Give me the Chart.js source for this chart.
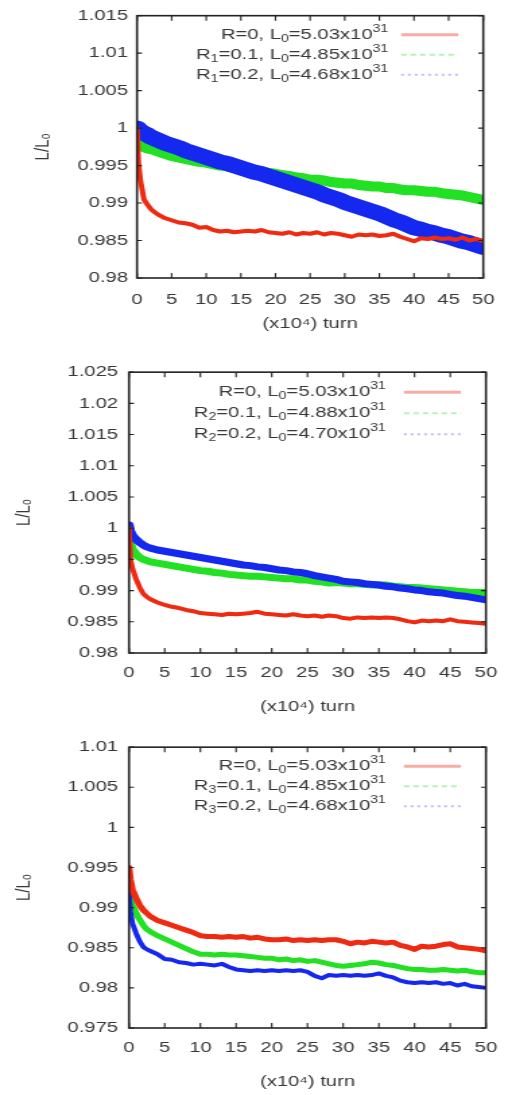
<!DOCTYPE html>
<html>
<head>
<meta charset="utf-8">
<script src="https://cdn.jsdelivr.net/npm/chart.js@4.4.1/dist/chart.umd.min.js"></script>
<style>
  html, body { margin: 0; padding: 0; background: #fff; width: 512px; height: 1095px; overflow: hidden; }
  /* the source figure is stretched sideways, so each panel is drawn narrow and scaled out */
  .panel { position: absolute; left: 0; width: 380px; transform: scaleX(1.34737); transform-origin: 0 0; }
</style>
</head>
<body>
<div class="panel" style="top:0;height:345px"><canvas id="c1"></canvas></div>
<div class="panel" style="top:355px;height:365px"><canvas id="c2"></canvas></div>
<div class="panel" style="top:730px;height:365px"><canvas id="c3"></canvas></div>
<script>
// horizontal stretch of the panels (real px / canvas px)
const SX = 512 / 380;

// turns (x10^4)
const turns = [0, 0.2, 0.5, 1, 1.5, 2, 2.5, 3, 4, 5, 6, 7, 8, 9, 10, 11, 12, 13, 14, 15, 16, 17, 18, 19, 20,
  21, 22, 23, 24, 25, 26, 27, 28, 29, 30, 31, 32, 33, 34, 35, 36, 37, 38, 39, 40, 41, 42, 43, 44, 45, 46, 47, 48, 49, 50];

// --- panel 1 : R1 ---
const p1Red = [1.0000, 0.9955, 0.9930, 0.9905, 0.9898, 0.9892, 0.9888, 0.9885, 0.9880, 0.9877, 0.9874, 0.9873, 0.9871,
  0.9867, 0.9868, 0.9864, 0.9862, 0.9863, 0.9861, 0.9862, 0.9863, 0.9862, 0.9864, 0.9861, 0.9860, 0.9859, 0.9861,
  0.9858, 0.9860, 0.9859, 0.9861, 0.9858, 0.9860, 0.9859, 0.9857, 0.9855, 0.9858, 0.9857, 0.9858, 0.9856, 0.9857,
  0.9859, 0.9855, 0.9852, 0.9849, 0.9853, 0.9852, 0.9854, 0.9852, 0.9853, 0.9851, 0.9854, 0.9850, 0.9852, 0.9849];
const p1Green = [0.9982, 0.9978, 0.9976, 0.9975, 0.9973, 0.9972, 0.9971, 0.9969, 0.9966, 0.9963, 0.9961, 0.9959, 0.9957,
  0.9955, 0.9954, 0.9952, 0.9950, 0.9949, 0.9947, 0.9946, 0.9945, 0.9943, 0.9942, 0.9940, 0.9939, 0.9937, 0.9936,
  0.9934, 0.9933, 0.9931, 0.9931, 0.9930, 0.9928, 0.9927, 0.9926, 0.9926, 0.9924, 0.9923, 0.9922, 0.9922, 0.9920,
  0.9920, 0.9918, 0.9917, 0.9917, 0.9916, 0.9915, 0.9915, 0.9913, 0.9912, 0.9911, 0.9910, 0.9908, 0.9906, 0.9904];
const p1Blue = [1.0000, 0.9998, 0.9996, 0.9993, 0.9991, 0.9988, 0.9986, 0.9984, 0.9980, 0.9977, 0.9974, 0.9970, 0.9967,
  0.9964, 0.9961, 0.9958, 0.9955, 0.9953, 0.9950, 0.9947, 0.9944, 0.9941, 0.9939, 0.9936, 0.9933, 0.9930, 0.9927,
  0.9924, 0.9921, 0.9918, 0.9915, 0.9911, 0.9908, 0.9905, 0.9901, 0.9898, 0.9895, 0.9892, 0.9889, 0.9886, 0.9882,
  0.9878, 0.9875, 0.9871, 0.9867, 0.9865, 0.9862, 0.9860, 0.9857, 0.9855, 0.9852, 0.9849, 0.9847, 0.9844, 0.9841];
const p1Keys = ['R=0, L_0=5.03x10^31', 'R_1=0.1, L_0=4.85x10^31', 'R_1=0.2, L_0=4.68x10^31'];
const p1Range = [0.98, 1.015];

// --- panel 2 : R2 ---
const p2Red = [1.0000, 0.9950, 0.9935, 0.9918, 0.9905, 0.9895, 0.9890, 0.9886, 0.9881, 0.9877, 0.9874, 0.9872, 0.9869,
  0.9867, 0.9864, 0.9863, 0.9862, 0.9861, 0.9863, 0.9862, 0.9863, 0.9864, 0.9866, 0.9863, 0.9862, 0.9861, 0.9860,
  0.9862, 0.9860, 0.9859, 0.9860, 0.9858, 0.9860, 0.9859, 0.9856, 0.9855, 0.9857, 0.9856, 0.9857, 0.9856, 0.9857,
  0.9856, 0.9854, 0.9851, 0.9849, 0.9852, 0.9851, 0.9852, 0.9851, 0.9854, 0.9851, 0.9850, 0.9849, 0.9848, 0.9847];
const p2Green = [0.9995, 0.9975, 0.9965, 0.9958, 0.9953, 0.9950, 0.9948, 0.9946, 0.9944, 0.9942, 0.9940, 0.9938, 0.9936,
  0.9934, 0.9932, 0.9931, 0.9929, 0.9928, 0.9926, 0.9925, 0.9924, 0.9923, 0.9923, 0.9922, 0.9921, 0.9920, 0.9919,
  0.9919, 0.9917, 0.9917, 0.9915, 0.9914, 0.9912, 0.9913, 0.9912, 0.9911, 0.9911, 0.9910, 0.9909, 0.9909, 0.9909,
  0.9907, 0.9906, 0.9905, 0.9905, 0.9904, 0.9903, 0.9902, 0.9901, 0.9900, 0.9899, 0.9898, 0.9897, 0.9897, 0.9897];
const p2Blue = [1.0005, 0.9995, 0.9988, 0.9982, 0.9977, 0.9973, 0.9970, 0.9968, 0.9965, 0.9963, 0.9961, 0.9959, 0.9957,
  0.9955, 0.9953, 0.9951, 0.9949, 0.9947, 0.9945, 0.9943, 0.9941, 0.9940, 0.9938, 0.9937, 0.9935, 0.9933, 0.9932,
  0.9930, 0.9929, 0.9927, 0.9924, 0.9922, 0.9920, 0.9918, 0.9915, 0.9914, 0.9913, 0.9911, 0.9910, 0.9909, 0.9907,
  0.9906, 0.9904, 0.9903, 0.9901, 0.9900, 0.9898, 0.9897, 0.9896, 0.9894, 0.9892, 0.9891, 0.9889, 0.9887, 0.9885];
const p2Keys = ['R=0, L_0=5.03x10^31', 'R_2=0.1, L_0=4.88x10^31', 'R_2=0.2, L_0=4.70x10^31'];
const p2Range = [0.98, 1.025];

// --- panel 3 : R3 ---
const p3Red = [0.9950, 0.9935, 0.9922, 0.9912, 0.9903, 0.9897, 0.9893, 0.9889, 0.9884, 0.9881, 0.9878, 0.9875, 0.9872,
  0.9869, 0.9865, 0.9864, 0.9864, 0.9863, 0.9864, 0.9863, 0.9864, 0.9862, 0.9863, 0.9861, 0.9860, 0.9860, 0.9861,
  0.9859, 0.9860, 0.9859, 0.9860, 0.9859, 0.9860, 0.9860, 0.9858, 0.9855, 0.9857, 0.9856, 0.9858, 0.9857, 0.9856,
  0.9857, 0.9853, 0.9851, 0.9848, 0.9852, 0.9851, 0.9852, 0.9854, 0.9855, 0.9851, 0.9850, 0.9849, 0.9848, 0.9846];
const p3Green = [0.9935, 0.9915, 0.9903, 0.9893, 0.9885, 0.9878, 0.9873, 0.9870, 0.9865, 0.9861, 0.9857, 0.9853, 0.9849,
  0.9845, 0.9842, 0.9842, 0.9841, 0.9842, 0.9841, 0.9841, 0.9840, 0.9839, 0.9838, 0.9837, 0.9837, 0.9835, 0.9836,
  0.9834, 0.9835, 0.9833, 0.9834, 0.9832, 0.9830, 0.9828, 0.9827, 0.9828, 0.9829, 0.9830, 0.9832, 0.9831, 0.9829,
  0.9828, 0.9826, 0.9824, 0.9823, 0.9823, 0.9822, 0.9822, 0.9823, 0.9822, 0.9821, 0.9822, 0.9820, 0.9819, 0.9819];
const p3Blue = [0.9920, 0.9895, 0.9880, 0.9868, 0.9858, 0.9851, 0.9848, 0.9846, 0.9842, 0.9836, 0.9835, 0.9832, 0.9831,
  0.9829, 0.9830, 0.9829, 0.9828, 0.9830, 0.9826, 0.9823, 0.9822, 0.9821, 0.9822, 0.9821, 0.9822, 0.9821, 0.9822,
  0.9821, 0.9822, 0.9820, 0.9815, 0.9812, 0.9816, 0.9815, 0.9816, 0.9815, 0.9816, 0.9815, 0.9816, 0.9818, 0.9815,
  0.9813, 0.9809, 0.9807, 0.9806, 0.9807, 0.9806, 0.9807, 0.9805, 0.9806, 0.9803, 0.9805, 0.9802, 0.9801, 0.9800];
const p3Keys = ['R=0, L_0=5.03x10^31', 'R_3=0.1, L_0=4.85x10^31', 'R_3=0.2, L_0=4.68x10^31'];
const p3Range = [0.975, 1.01];

const xRange = [0, 50];
const lineColors = ['#f02a10', '#22e022', '#1428f0'];
const keyColors = ['rgba(240,70,50,0.45)', 'rgba(40,220,40,0.35)', 'rgba(30,40,240,0.3)'];

const TEXT = '#383838';
const FONT = "'Liberation Sans', Arial, sans-serif";
Chart.defaults.font.family = FONT;
Chart.defaults.font.size = 15;
Chart.defaults.color = TEXT;
Chart.defaults.animation = false;

// draw "a_b" as subscript and "a^b" as superscript
function drawRich(ctx, str, xRight, y) {
  const segs = str.split(/([_^]\w+)/).filter(Boolean).map(p => {
    if (p[0] === '_') return { t: p.slice(1), f: `10.5px ${FONT}`, dy: 4 };
    if (p[0] === '^') return { t: p.slice(1), f: `10.5px ${FONT}`, dy: -6 };
    return { t: p, f: `15px ${FONT}`, dy: 0 };
  });
  let total = 0;
  segs.forEach(s => { ctx.font = s.f; s.w = ctx.measureText(s.t).width; total += s.w; });
  let x = xRight - total;
  segs.forEach(s => { ctx.font = s.f; ctx.fillText(s.t, x, y + s.dy); x += s.w; });
}

// gnuplot-like key at the top right of the plot
const keyPlugin = {
  id: 'keyBox',
  afterDraw(chart, args, opts) {
    const { ctx, chartArea } = chart;
    const dashes = [[], [4, 3], [2, 3]];
    const widths = [3, 2, 2];
    ctx.save();
    ctx.textBaseline = 'middle';
    ctx.fillStyle = TEXT;
    opts.labels.forEach((lab, i) => {
      const y = chartArea.top + opts.first + i * opts.gap;
      drawRich(ctx, lab, chartArea.right - opts.textEnd / SX, y);
      ctx.beginPath();
      ctx.setLineDash(dashes[i]);
      ctx.lineWidth = widths[i];
      ctx.strokeStyle = keyColors[i];
      ctx.moveTo(chartArea.right - 82 / SX, y);
      ctx.lineTo(chartArea.right - 25 / SX, y);
      ctx.stroke();
    });
    ctx.restore();
  }
};

// black border with inward ticks on all four sides
const framePlugin = {
  id: 'gnuFrame',
  afterDraw(chart) {
    const { ctx, chartArea: a, scales } = chart;
    ctx.save();
    ctx.strokeStyle = '#222';
    ctx.lineWidth = 1.6;
    ctx.strokeRect(a.left, a.top, a.right - a.left, a.bottom - a.top);
    ctx.lineWidth = 1.1;
    ctx.beginPath();
    scales.x.ticks.forEach(t => {
      const px = scales.x.getPixelForValue(t.value);
      ctx.moveTo(px, a.bottom); ctx.lineTo(px, a.bottom - 5);
      ctx.moveTo(px, a.top); ctx.lineTo(px, a.top + 5);
    });
    scales.y.ticks.forEach(t => {
      const py = scales.y.getPixelForValue(t.value);
      ctx.moveTo(a.left, py); ctx.lineTo(a.left + 5 / SX, py);
      ctx.moveTo(a.right, py); ctx.lineTo(a.right - 5 / SX, py);
    });
    ctx.stroke();
    ctx.restore();
  }
};

function series(ys) {
  return ys.map((v, i) => ({ x: turns[i], y: v }));
}

function makePanel(id, red, green, blue, keys, range, lay) {
  // red is drawn on top, then blue, then green
  const stack = [0, 2, 1];
  const sets = [red, green, blue].map((ys, i) => ({
    data: series(ys),
    borderColor: lineColors[i],
    borderWidth: lay.widths[i],
    pointRadius: 0,
    tension: 0,
    borderJoinStyle: 'round',
    borderCapStyle: 'round',
    order: stack[i]
  }));
  return new Chart(document.getElementById(id), {
    type: 'line',
    data: { datasets: sets },
    options: {
      responsive: true,
      maintainAspectRatio: false,
      layout: { padding: { top: lay.top, right: lay.right / SX, left: 0, bottom: 0 } },
      plugins: {
        legend: { display: false },
        tooltip: { enabled: false },
        keyBox: { labels: keys, first: lay.keyFirst, gap: lay.keyGap, textEnd: lay.textEnd }
      },
      scales: {
        x: {
          type: 'linear', min: xRange[0], max: xRange[1],
          afterFit: s => { s.height = lay.xHeight; },
          grid: { display: false, drawTicks: false },
          border: { display: false },
          ticks: { stepSize: 5, padding: lay.xTickPad, maxRotation: 0, autoSkip: false },
          title: { display: true, text: '(x10⁴) turn', padding: { top: 0, bottom: lay.xTitlePad } }
        },
        y: {
          type: 'linear', min: range[0], max: range[1],
          afterFit: s => { s.width = lay.left / SX; },
          grid: { display: false, drawTicks: false },
          border: { display: false },
          ticks: {
            stepSize: 0.005, padding: lay.yTickPad / SX, autoSkip: false,
            callback: v => String(parseFloat(v.toFixed(3)))
          },
          title: { display: true, text: 'L/L₀', padding: { top: lay.yTitlePad, bottom: 0 } }
        }
      }
    },
    plugins: [framePlugin, keyPlugin]
  });
}

makePanel('c1', p1Red, p1Green, p1Blue, p1Keys, p1Range, {
  top: 10, right: 28, left: 137, widths: [4, 10, 15],
  xHeight: 67, xTickPad: 13, xTitlePad: 12, yTickPad: 9, yTitlePad: 23,
  keyFirst: 19, keyGap: 20, textEnd: 95
});
makePanel('c2', p2Red, p2Green, p2Blue, p2Keys, p2Range, {
  top: 10, right: 14, left: 129, widths: [4, 7, 7],
  xHeight: 67, xTickPad: 11, xTitlePad: 4, yTickPad: 11, yTitlePad: 9,
  keyFirst: 20, keyGap: 21, textEnd: 100
});
makePanel('c3', p3Red, p3Green, p3Blue, p3Keys, p3Range, {
  top: 13, right: 14, left: 129, widths: [5, 5, 4],
  xHeight: 67, xTickPad: 11, xTitlePad: 4, yTickPad: 11, yTitlePad: 9,
  keyFirst: 19, keyGap: 20, textEnd: 100
});
</script>
</body>
</html>
